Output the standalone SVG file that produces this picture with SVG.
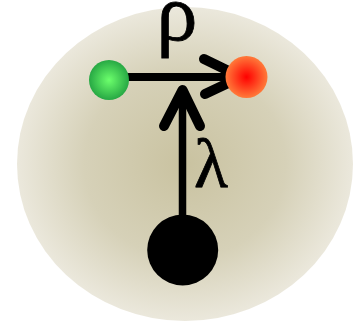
<svg xmlns="http://www.w3.org/2000/svg" width="360" height="321" viewBox="0 0 360 321">
<defs>
<radialGradient id="bg" cx="0.5" cy="0.5" r="0.5">
<stop offset="0" stop-color="#c9c2a0"/>
<stop offset="0.6" stop-color="#d6d1b8"/>
<stop offset="1" stop-color="#ebe8dc"/>
</radialGradient>
<radialGradient id="gg" cx="0.5" cy="0.5" r="0.5">
<stop offset="0" stop-color="#6cff6c"/>
<stop offset="1" stop-color="#27a844"/>
</radialGradient>
<radialGradient id="rg" cx="0.5" cy="0.5" r="0.5">
<stop offset="0" stop-color="#ff0000"/>
<stop offset="1" stop-color="#ff7a3a"/>
</radialGradient>
<style>
.ln{stroke:#000;fill:none;stroke-linecap:round;stroke-linejoin:round}
.lbl{font-family:"Liberation Serif","DejaVu Serif",serif;fill:#000}
</style>
</defs>
<ellipse cx="185" cy="164" rx="168" ry="157" fill="url(#bg)"/>
<g id="connectors">
<path class="ln" d="M129,77 H240" stroke-width="8"/>
<path class="ln" d="M204,59 L241,77 L205,94" stroke-width="10"/>
<path class="ln" d="M182.5,217 V92" stroke-width="7.5"/>
<path class="ln" d="M164,126 L182.5,90 L200,126" stroke-width="10"/>
</g>
<g id="green"><circle cx="109" cy="80" r="20" fill="url(#gg)"/></g>
<g id="red"><circle cx="246.5" cy="77" r="21" fill="url(#rg)"/></g>
<g id="black"><circle cx="182.7" cy="250" r="35.5" fill="#000"/></g>
<g id="rho"><text class="lbl" x="177" y="40" font-size="82" text-anchor="middle" stroke="#000" stroke-width="0.8">ρ</text></g>
<g id="lambda"><text class="lbl" x="194" y="187" font-size="70" stroke="#000" stroke-width="0.8">λ</text></g>
</svg>
